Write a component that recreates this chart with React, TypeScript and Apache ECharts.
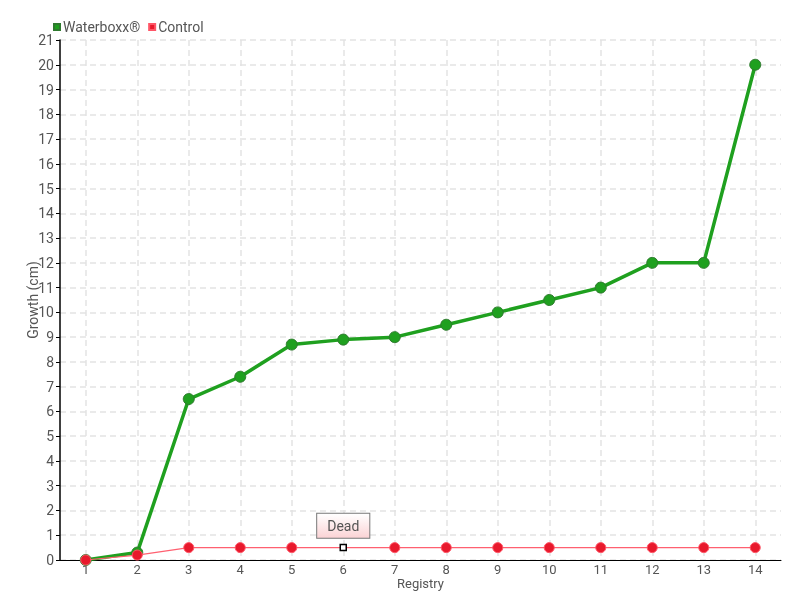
import React, { useEffect, useRef } from "react";
import * as echarts from "echarts";

const categories = ["1", "2", "3", "4", "5", "6", "7", "8", "9", "10", "11", "12", "13", "14"];
const waterboxx = [0, 0.3, 6.5, 7.4, 8.7, 8.9, 9.0, 9.5, 10.0, 10.5, 11.0, 12.0, 12.0, 20.0];
const control = [0, 0.2, 0.5, 0.5, 0.5, 0.5, 0.5, 0.5, 0.5, 0.5, 0.5, 0.5, 0.5, 0.5];
const deadIndex = 5;
const deadLabel = "Dead";

const FONT = "Roboto, sans-serif";
const TXT = { fontFamily: FONT, fontSize: 14, color: "#555" };

export default function App() {
  const ref = useRef<HTMLDivElement>(null);
  useEffect(() => {
    if (!ref.current) return;
    const chart = echarts.init(ref.current, null, { renderer: "svg" });
    const controlData = control.map((v, i) =>
      i === deadIndex
        ? {
            value: v,
            symbol: "rect",
            symbolSize: 6,
            itemStyle: { color: "#ffffff", borderColor: "#000000", borderWidth: 1.5 },
            label: {
              show: true,
              formatter: deadLabel,
              position: "top",
              distance: 6,
              ...TXT,
              padding: [5, 10, 5, 10],
              borderColor: "#777",
              borderWidth: 1,
              backgroundColor: new echarts.graphic.LinearGradient(0, 0, 0, 1, [
                { offset: 0, color: "#ffffff" },
                { offset: 1, color: "#fbd3d5" },
              ]),
            },
          }
        : v
    );
    chart.setOption({
      animation: false,
      textStyle: { fontFamily: FONT },
      legend: {
        left: 48,
        top: 15,
        itemWidth: 6,
        itemHeight: 6,
        itemGap: 8,
        icon: "rect",
        textStyle: { ...TXT, padding: [0, 0, 0, -2] },
        data: ["Waterboxx®", "Control"],
      },
      grid: { left: 60, right: 19, top: 40, bottom: 40, containLabel: false },
      xAxis: {
        type: "category",
        data: categories,
        name: "Registry",
        nameLocation: "middle",
        nameGap: 17,
        nameMoveOverlap: false,
        nameTextStyle: { ...TXT, fontSize: 13 },
        axisLine: { lineStyle: { color: "#000", width: 1 } },
        axisTick: { alignWithLabel: true, length: 5, lineStyle: { color: "#000" } },
        axisLabel: { ...TXT, fontSize: 13, margin: 3 },
        splitLine: {
          show: true,
          alignWithLabel: true,
          lineStyle: { color: "#e3e3e3", type: [6, 4], width: 1.5 },
        },
      },
      yAxis: {
        type: "value",
        min: 0,
        max: 21,
        interval: 1,
        name: "Growth (cm)",
        nameLocation: "middle",
        nameGap: 20,
        nameMoveOverlap: false,
        nameTextStyle: { ...TXT },
        axisLine: { show: true, lineStyle: { color: "#000", width: 1.5 } },
        axisTick: { show: true, length: 4, lineStyle: { color: "#000" } },
        axisLabel: { ...TXT, margin: 6 },
        splitLine: { show: true, lineStyle: { color: "#e3e3e3", type: [6, 4], width: 1.5 } },
      },
      series: [
        {
          name: "Waterboxx®",
          type: "line",
          data: waterboxx,
          symbol: "circle",
          symbolSize: 11,
          z: 3,
          lineStyle: { color: "#1fa01f", width: 3.5 },
          itemStyle: { color: "#1fa01f", borderColor: "#2f7a2f", borderWidth: 1 },
        },
        {
          name: "Control",
          type: "line",
          data: controlData,
          symbol: "circle",
          symbolSize: 10,
          z: 4,
          lineStyle: { color: "#ff6070", width: 1.2 },
          itemStyle: { color: "#e8192c", borderColor: "#ff5566", borderWidth: 1 },
        },
      ],
    });
    return () => chart.dispose();
  }, []);
  return (
    <div
      ref={ref}
      style={{ position: "fixed", left: 0, top: 0, width: 800, height: 600 }}
    />
  );
}
